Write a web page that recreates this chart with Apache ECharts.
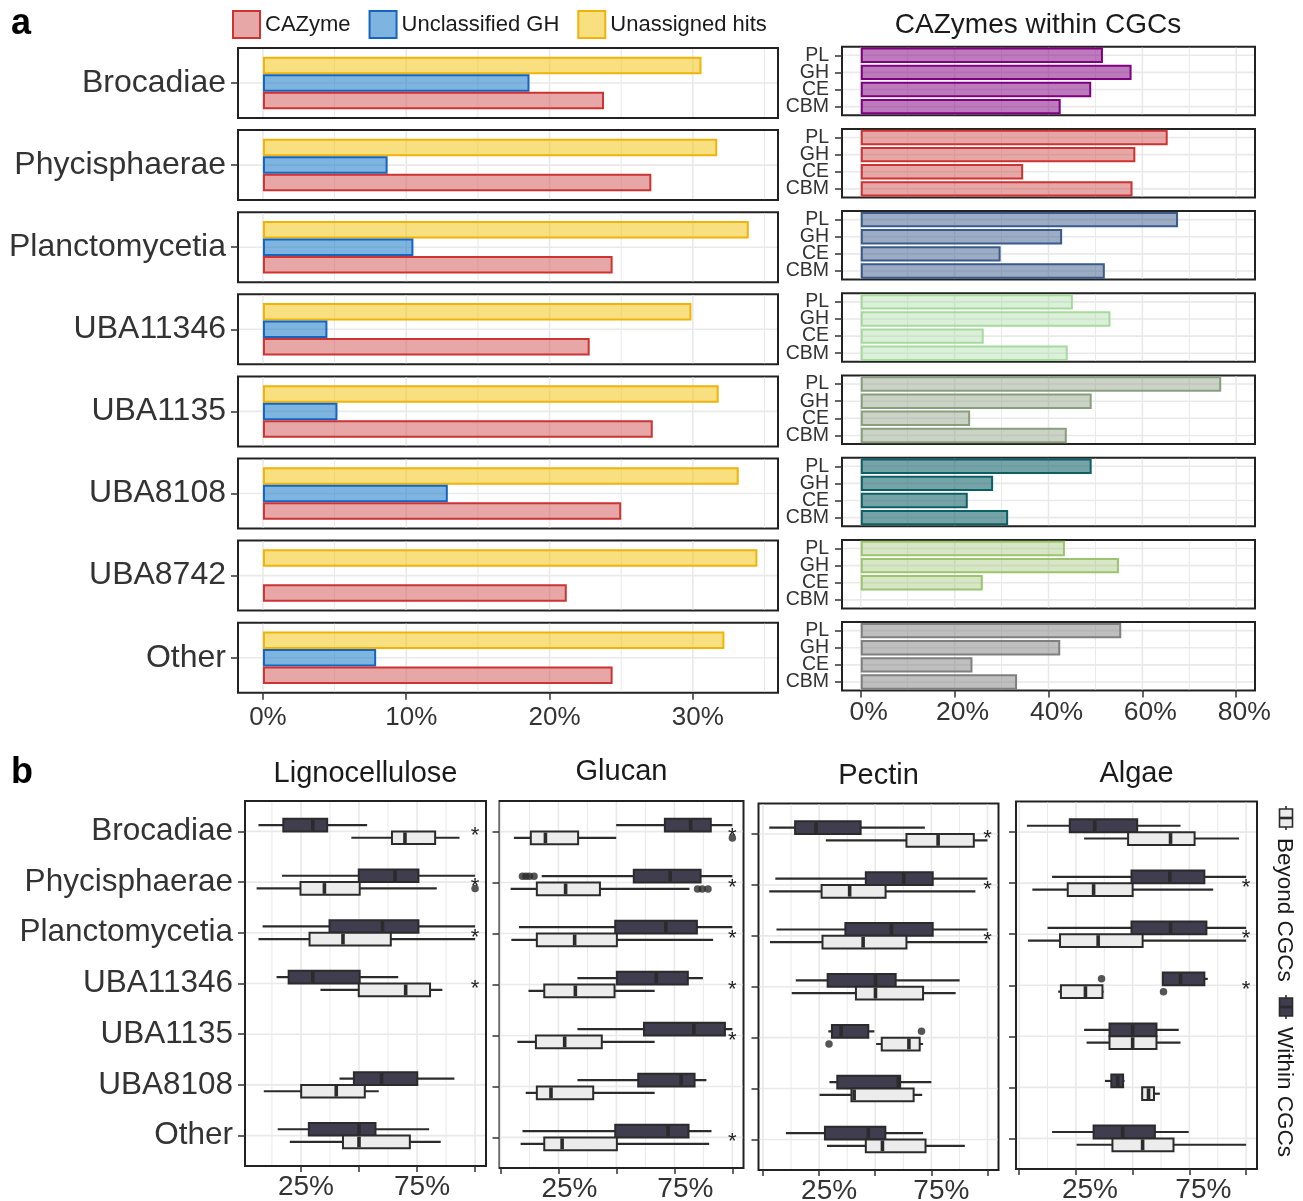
<!DOCTYPE html>
<html><head><meta charset="utf-8">
<script src="https://cdn.jsdelivr.net/npm/echarts@6.0.0/dist/echarts.min.js"></script>
<style>html,body{margin:0;padding:0;background:#fff}#c{width:1303px;height:1201px}</style>
</head><body><div id="c"></div>
<script>
// ---------------- DATA ----------------
const taxaA = ['Brocadiae','Phycisphaerae','Planctomycetia','UBA11346','UBA1135','UBA8108','UBA8742','Other'];
const cazyme         = [23.8, 27.1, 24.4, 22.8, 27.2, 25.0, 21.2, 24.4];
const unclassifiedGH = [18.6,  8.7, 10.5,  4.5,  5.2, 12.9, null,  7.9];
const unassignedHits = [30.6, 31.7, 33.9, 29.9, 31.8, 33.2, 34.5, 32.2];

const cgcClasses = ['CBM','CE','GH','PL'];           // bottom to top
const cgcPL  = [51.6, 65.4, 67.6, 45.2, 76.8, 49.2, 43.5, 55.5];
const cgcGH  = [57.7, 58.5, 42.9, 53.2, 49.2, 28.2, 55.0, 42.5];
const cgcCE  = [49.1, 34.6, 29.8, 26.2, 23.3, 22.8, 26.0, 23.8];
const cgcCBM = [42.6, 57.9, 52.0, 44.1, 43.9, 31.4, null, 33.3];

const leftTicks  = [0, 10, 20, 30];
const rightTicks = [0, 20, 40, 60, 80];
const boxTicks   = [0, 25, 50, 75, 100];
const boxLabels  = [25, 75];

const taxaB = ['Brocadiae','Phycisphaerae','Planctomycetia','UBA11346','UBA1135','UBA8108','Other'];
// [lower whisker, Q1, median, Q3, upper whisker]
const lignoWithin = [[6.7,17.4,30.1,36.3,53.5],[16.8,49.9,65.5,75.6,100],[8.5,37.3,60.1,75.6,100],[14.5,19.7,30.1,50.3,66.9],null,[41.6,47.8,59.7,75.1,91.1],[15.0,28.4,50.0,57.1,80.2]];
const lignoBeyond = [[46.7,64.2,69.8,82.8,93.3],[5.9,24.8,35.1,50.3,83.5],[6.7,28.7,43.1,63.7,100],[33.4,49.9,70.1,80.6,85.9],null,[9.0,25.1,40.2,52.5,58.5],[20.2,43.1,50.0,71.9,85.2]];
const glucanWithin = [[49.9,70.9,82.0,90.7,100],[17.8,57.5,73.2,86.3,100],[8.0,49.5,71.3,84.7,100],[33.2,50.2,67.2,80.8,87.3],[33.2,61.9,83.4,96.8,100],[33.2,59.4,77.9,83.7,88.8],[9.5,49.5,72.3,81.1,91.0]];
const glucanBeyond = [[5.8,13.1,19.4,33.5,49.9],[4.4,15.7,28.1,42.9,81.5],[4.7,15.7,32.0,50.2,91.7],[12.1,18.9,32.3,49.2,66.5],[7.3,15.3,27.7,43.7,66.5],[10.9,15.7,21.8,40.0,66.5],[8.7,18.9,26.6,50.2,90.0]];
const pectinWithin = [[2.8,14.3,23.6,43.5,72.1],[5.5,45.8,62.7,75.6,100],[6.0,36.7,57.2,75.6,100],[14.6,28.8,50.1,59.1,87.6],[29.1,30.7,34.8,46.9,49.6],[29.6,33.1,60.3,61.1,75.0],[10.2,27.6,46.9,54.5,71.3]];
const pectinBeyond = [[28.0,63.9,78.0,93.9,100],[2.8,26.1,38.6,54.6,94.6],[3.1,26.5,44.6,63.9,100],[12.8,41.4,50.1,71.3,85.8],[50.4,52.9,65.0,69.8,71.3],[25.2,39.4,40.6,67.1,70.9],[28.5,45.8,53.2,72.4,89.9]];
const algaeWithin = [[3.4,22.3,33.3,52.0,71.1],[14.5,49.5,66.4,81.6,100],[12.5,49.5,66.7,82.5,100],[63.0,63.3,71.1,81.6,83.1],[28.6,39.8,50.0,60.5,70.3],[37.8,40.6,43.4,45.8,46.4],[14.5,32.8,45.6,59.8,74.7]];
const algaeBeyond = [[28.6,48.0,66.7,77.3,96.9],[5.8,21.4,32.8,50.0,85.5],[3.9,18.0,34.8,54.4,100],[17.2,18.4,29.2,36.7,37.2],[29.7,39.8,50.0,60.5,71.1],[53.9,54.2,57.0,59.4,62.0],[25.3,41.1,54.4,68.0,100]];
// outliers: [taxon index, value]
const lignoOutWithin = [];
const lignoOutBeyond = [[1,100]];
const glucanOutWithin = [[1,9.5],[1,11],[1,12.5],[1,14.5]];
const glucanOutBeyond = [[0,100],[1,85],[1,87],[1,89.5]];
const pectinOutWithin = [[4,70.6]];
const pectinOutBeyond = [[4,29.4]];
const algaeOutWithin = [[3,36.3]];
const algaeOutBeyond = [[3,63.6]];
// significance stars (taxon index)
const lignoStars  = [0,1,2,3];
const glucanStars = [0,1,2,3,4,6];
const pectinStars = [0,1,2];
const algaeStars  = [1,2,3];

// ---------------- STYLE / LAYOUT ----------------
const FONT = '"Liberation Sans", Arial, Helvetica, sans-serif';
const TXT = '#333333', FRAME = '#222222', GRIDC = '#e9e9e9', STROKE = '#2b2b2b';
const WITHIN_FILL = '#3f3d4e', BEYOND_FILL = '#ececec';
const BOX_H = 0.25, DODGE = 0.125;

const aLeftStyles = [
  {name:'Unassigned hits', values: unassignedHits, fill:'rgba(241,191,1,0.5)',  stroke:'#efb30a'},
  {name:'Unclassified GH', values: unclassifiedGH, fill:'rgba(38,130,203,0.6)', stroke:'#1565c0'},
  {name:'CAZyme',          values: cazyme,         fill:'rgba(210,80,80,0.5)',  stroke:'#cc3333'}
];
const aRightStyles = [
  {fill:'rgba(128,0,128,0.52)',  stroke:'#7f007f'},
  {fill:'rgba(210,80,80,0.5)',   stroke:'#cc3333'},
  {fill:'rgba(58,90,140,0.5)',   stroke:'#3a5a8c'},
  {fill:'rgba(166,217,158,0.4)', stroke:'#a6d99e'},
  {fill:'rgba(138,158,126,0.45)',stroke:'#8a9e7e'},
  {fill:'rgba(13,95,102,0.57)',  stroke:'#0d5f66'},
  {fill:'rgba(156,196,110,0.4)', stroke:'#9cc46e'},
  {fill:'rgba(127,127,127,0.5)', stroke:'#7f7f7f'}
];
const facets = [
  {name:'Lignocellulose', within:lignoWithin,  beyond:lignoBeyond,  outW:lignoOutWithin,  outB:lignoOutBeyond,  stars:lignoStars,
   grid:{left:245, top:801, width:241, height:365}, min:0.9, max:104.7, tx:365.5, ty:774, shift:5},
  {name:'Glucan', within:glucanWithin, beyond:glucanBeyond, outW:glucanOutWithin, outB:glucanOutBeyond, stars:glucanStars,
   grid:{left:499.5, top:801, width:244, height:367}, min:-0.4, max:104.8, tx:621.5, ty:772, shift:11},
  {name:'Pectin', within:pectinWithin, beyond:pectinBeyond, outW:pectinOutWithin, outB:pectinOutBeyond, stars:pectinStars,
   grid:{left:758.5, top:803.5, width:240, height:366.5}, min:-2.0, max:104.9, tx:878.5, ty:776, shift:10},
  {name:'Algae', within:algaeWithin, beyond:algaeBeyond, outW:algaeOutWithin, outB:algaeOutBeyond, stars:algaeStars,
   grid:{left:1016, top:801.5, width:241, height:367.5}, min:-1.4, max:104.8, tx:1136.5, ty:774, shift:14}
];

const grids = [], xAxes = [], yAxes = [], series = [];
function addGrid(g) {
  grids.push(Object.assign({show:true, backgroundColor:'#fff', borderColor:FRAME, borderWidth:2, containLabel:false, outerBoundsMode:'none'}, g));
  return grids.length - 1;
}
function renderGridLine(params, api) {
  const cs = params.coordSys;
  const kind = api.value(2);
  const p = api.coord([api.value(0), api.value(1)]);
  if (kind === 2) {
    return {type:'line', silent:true, shape:{x1:cs.x+1, y1:p[1], x2:cs.x+cs.width-1, y2:p[1]}, style:{stroke:GRIDC, lineWidth:1.6}};
  }
  return {type:'line', silent:true, shape:{x1:p[0], y1:cs.y+1, x2:p[0], y2:cs.y+cs.height-1}, style:{stroke:GRIDC, lineWidth: kind === 0 ? 1.6 : 1}};
}
function gridLines(gi, major, minor, hs, xmin, xmax) {
  const data = [];
  major.filter(v => v > xmin && v < xmax).forEach(v => data.push([v, 0, 0]));
  minor.filter(v => v > xmin && v < xmax).forEach(v => data.push([v, 0, 1]));
  hs.forEach(h => data.push([0, h, 2]));
  return {type:'custom', xAxisIndex:gi, yAxisIndex:gi, z:1, silent:true, renderItem:renderGridLine, data};
}
const tickStyle = {color:TXT, width:1.5};
const noLine = {show:false, onZero:false};

// ---------- panel a, left ----------
taxaA.forEach((taxon, i) => {
  const gi = addGrid({left:238, top:48 + 82.1*i, width:540, height:70});
  const last = i === taxaA.length - 1;
  const xmin = -1.74, xmax = 35.94;
  xAxes.push({gridIndex:gi, type:'value', position:'bottom', min:xmin, max:xmax, axisLine:noLine, splitLine:{show:false},
    axisTick:{show:last, customValues:leftTicks, length:7, lineStyle:tickStyle},
    axisLabel:{show:last, customValues:leftTicks, formatter:'{value}%', fontSize:26, color:TXT, fontFamily:FONT, margin:12, padding:[0,0,0,10]}});
  yAxes.push({gridIndex:gi, type:'category', position:'left', data:[taxon], axisLine:noLine, splitLine:{show:false},
    axisTick:{show:true, alignWithLabel:true, interval:0, length:7, lineStyle:tickStyle},
    axisLabel:{fontSize:32, color:TXT, fontFamily:FONT, margin:12, interval:0, padding:[5,0,0,0]}});
  series.push(gridLines(gi, [0,10,20,30], [5,15,25,35], [0], xmin, xmax));
  aLeftStyles.forEach(s => {
    const v = s.values[i];
    series.push({type:'bar', name:s.name, xAxisIndex:gi, yAxisIndex:gi, z:2, barWidth:17.5, barGap:'0%',
      data:[v == null ? '-' : v], itemStyle:{color:s.fill, borderColor:s.stroke, borderWidth:2}, silent:true});
  });
});

// ---------- panel a, right ----------
taxaA.forEach((taxon, i) => {
  const gi = addGrid({left:842, top:46.7 + 82.2*i, width:413, height:68.5});
  const last = i === taxaA.length - 1;
  const xmin = -4, xmax = 84;
  xAxes.push({gridIndex:gi, type:'value', position:'bottom', min:xmin, max:xmax, axisLine:noLine, splitLine:{show:false},
    axisTick:{show:last, customValues:rightTicks, length:7, lineStyle:tickStyle},
    axisLabel:{show:last, customValues:rightTicks, formatter:'{value}%', fontSize:26.5, color:TXT, fontFamily:FONT, margin:9, padding:[0,0,0,16]}});
  yAxes.push({gridIndex:gi, type:'category', position:'left', data:cgcClasses, axisLine:noLine, splitLine:{show:false},
    axisTick:{show:true, alignWithLabel:true, interval:0, length:7, lineStyle:tickStyle},
    axisLabel:{fontSize:19.5, color:TXT, fontFamily:FONT, margin:13, interval:0}});
  series.push(gridLines(gi, [0,20,40,60,80], [10,30,50,70], [0,1,2,3], xmin, xmax));
  const vals = [cgcCBM[i], cgcCE[i], cgcGH[i], cgcPL[i]].map(v => v == null ? '-' : v);
  const st = aRightStyles[i];
  series.push({type:'bar', name:'CGC ' + taxon, xAxisIndex:gi, yAxisIndex:gi, z:2, barCategoryGap:'10%',
    data:vals, itemStyle:{color:st.fill, borderColor:st.stroke, borderWidth:2}, silent:true});
});

// ---------- panel b ----------
function makeBoxRender(fill) {
  return function (params, api) {
    const y = api.value(5);
    const pts = [0,1,2,3,4].map(d => api.coord([api.value(d), y]));
    const h = Math.abs(api.size([0, BOX_H])[1]);
    const yc = pts[0][1];
    return {type:'group', children:[
      {type:'line', shape:{x1:pts[0][0], y1:yc, x2:pts[4][0], y2:yc}, style:{stroke:STROKE, lineWidth:2.2}},
      {type:'rect', shape:{x:pts[1][0], y:yc - h/2, width:pts[3][0] - pts[1][0], height:h}, style:{fill:fill, stroke:STROKE, lineWidth:2}},
      {type:'line', shape:{x1:pts[2][0], y1:yc - h/2 + 1, x2:pts[2][0], y2:yc + h/2 - 1}, style:{stroke:STROKE, lineWidth:3.6}}
    ]};
  };
}
function renderStar(params, api) {
  const p = api.coord([api.value(0), api.value(1)]);
  return {type:'text', x:p[0], y:p[1] + 5, style:{text:'*', fontSize:22, fontFamily:FONT, fill:'#222', align:'center', verticalAlign:'middle'}};
}
const catIdx = taxaB.map((t, k) => k);
facets.forEach((f, fi) => {
  const gi = addGrid(f.grid);
  xAxes.push({gridIndex:gi, type:'value', position:'bottom', min:f.min, max:f.max, axisLine:noLine, splitLine:{show:false},
    axisTick:{show:true, customValues:boxTicks, length:6, lineStyle:tickStyle},
    axisLabel:{show:true, customValues:boxLabels, formatter:'{value}%', fontSize:28, color:TXT, fontFamily:FONT, margin:7, padding:[0,0,0,2*f.shift]}});
  yAxes.push({gridIndex:gi, type:'value', position:'left', min:-0.6, max:6.6, inverse:true, axisLine:noLine, splitLine:{show:false},
    axisTick:{show:true, customValues:catIdx, length:7, lineStyle:tickStyle},
    axisLabel:{show:fi === 0, customValues:catIdx, formatter:(v) => taxaB[Math.round(v)] || '', fontSize:31.5, color:TXT, fontFamily:FONT, margin:12, padding:[5,0,0,0]}});
  series.push(gridLines(gi, boxTicks, [12.5,37.5,62.5,87.5], catIdx, f.min, f.max));
  [[f.within, -DODGE, WITHIN_FILL, 'Within CGCs'], [f.beyond, DODGE, BEYOND_FILL, 'Beyond CGCs']].forEach(([arr, off, fill, nm]) => {
    const data = [];
    arr.forEach((b, k) => { if (b) data.push(b.concat([k + off])); });
    series.push({type:'custom', name:nm, xAxisIndex:gi, yAxisIndex:gi, z:3, silent:true,
      encode:{x:[0,1,2,3,4], y:5}, renderItem:makeBoxRender(fill), data});
  });
  const outs = f.outW.map(([k, v]) => [v, k - DODGE]).concat(f.outB.map(([k, v]) => [v, k + DODGE]));
  series.push({type:'scatter', xAxisIndex:gi, yAxisIndex:gi, z:4, silent:true, symbol:'circle', symbolSize:7.5,
    itemStyle:{color:STROKE}, data:outs});
  series.push({type:'custom', xAxisIndex:gi, yAxisIndex:gi, z:5, silent:true, renderItem:renderStar,
    data:f.stars.map(k => [100, k])});
});

// ---------- graphics (panel letters, titles, legend b) ----------
const gfx = [
  {type:'text', x:11, y:24.5, style:{text:'a', fontSize:36, fontWeight:'bold', fontFamily:FONT, fill:'#000', align:'left', verticalAlign:'middle'}},
  {type:'text', x:11, y:773, style:{text:'b', fontSize:36, fontWeight:'bold', fontFamily:FONT, fill:'#000', align:'left', verticalAlign:'middle'}},
  {type:'text', x:1038, y:25, style:{text:'CAZymes within CGCs', fontSize:28, fontFamily:FONT, fill:'#1a1a1a', align:'center', verticalAlign:'middle'}}
];
facets.forEach(f => gfx.push({type:'text', x:f.tx, y:f.ty, style:{text:f.name, fontSize:29, fontFamily:FONT, fill:'#1a1a1a', align:'center', verticalAlign:'middle'}}));
function legendKey(cx, cy, fill) {
  return [
    {type:'line', shape:{x1:cx, y1:cy - 12, x2:cx, y2:cy + 12}, style:{stroke:STROKE, lineWidth:1.6}},
    {type:'rect', shape:{x:cx - 6.5, y:cy - 9, width:13, height:18}, style:{fill:fill, stroke:STROKE, lineWidth:1.6}},
    {type:'line', shape:{x1:cx - 6.5, y1:cy, x2:cx + 6.5, y2:cy}, style:{stroke:STROKE, lineWidth:2.6}}
  ];
}
legendKey(1286, 818, BEYOND_FILL).forEach(e => gfx.push(e));
legendKey(1286, 1007, WITHIN_FILL).forEach(e => gfx.push(e));
gfx.push({type:'text', x:1284, y:838, rotation:-Math.PI/2, style:{text:'Beyond CGCs', fontSize:22.5, fontFamily:FONT, fill:'#1a1a1a', align:'left', verticalAlign:'middle'}});
gfx.push({type:'text', x:1284, y:1027, rotation:-Math.PI/2, style:{text:'Within CGCs', fontSize:22.5, fontFamily:FONT, fill:'#1a1a1a', align:'left', verticalAlign:'middle'}});

const chart = echarts.init(document.getElementById('c'), null, {renderer:'canvas', width:1303, height:1201});
chart.setOption({
  animation:false,
  backgroundColor:'#fff',
  textStyle:{fontFamily:FONT},
  legend:{data:['CAZyme','Unclassified GH','Unassigned hits'], left:232, top:10, padding:0, itemWidth:27, itemHeight:27, itemGap:18,
    icon:'rect', selectedMode:false, itemStyle:{borderWidth:2},
    textStyle:{fontSize:22, color:'#1a1a1a', fontFamily:FONT}},
  grid:grids, xAxis:xAxes, yAxis:yAxes, series:series,
  graphic:{elements:gfx}
});
</script></body></html>
